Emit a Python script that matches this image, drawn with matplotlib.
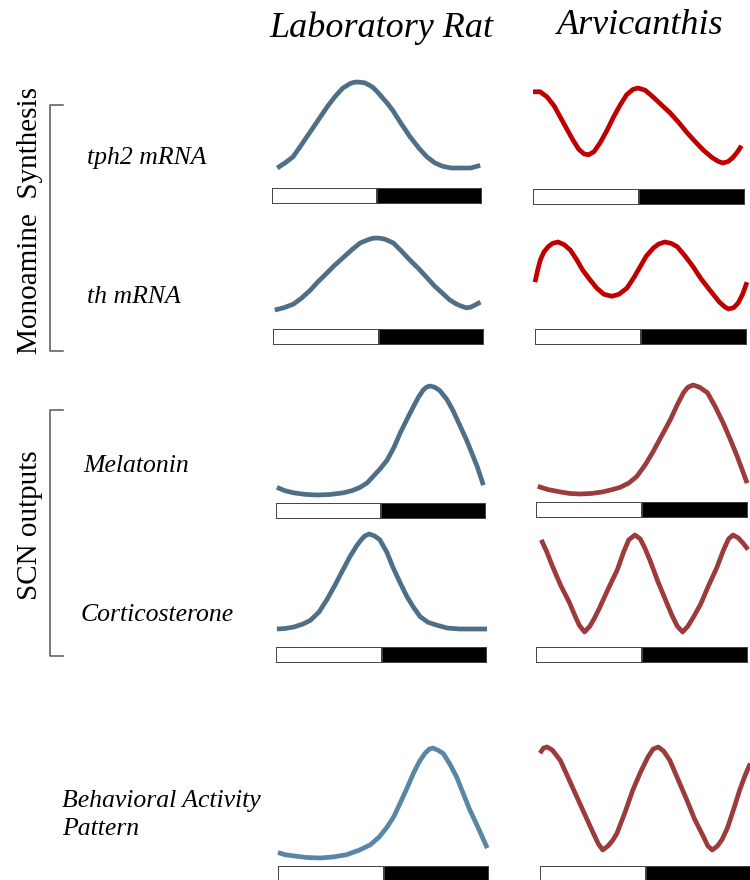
import matplotlib.pyplot as plt

# Schematic daily rhythms: hour of the 24 h light/dark cycle vs relative level (trough 0, peak 1)
tph2_rat_h = [0.6, 1.5, 2.4, 3.3, 4.3, 5.3, 6.3, 7.2, 8.1, 8.9, 9.3, 9.7, 10.1, 10.6, 11.0, 11.5, 12.0, 12.6, 13.2, 13.8, 14.8, 15.8, 16.8, 17.7, 18.6, 19.5, 20.5, 21.5, 22.7, 23.8]
tph2_rat_lev = [0.0, 0.06, 0.13, 0.26, 0.41, 0.56, 0.71, 0.83, 0.93, 0.98, 0.995, 1.0, 0.997, 0.99, 0.97, 0.94, 0.89, 0.82, 0.75, 0.67, 0.51, 0.36, 0.23, 0.13, 0.06, 0.02, 0.0, 0.0, 0.0, 0.03]
tph2_arv_h = [0.0, 0.8, 1.6, 2.4, 3.1, 3.8, 4.5, 5.2, 5.8, 6.3, 6.9, 7.6, 8.4, 9.1, 9.9, 10.6, 11.3, 11.9, 12.7, 13.6, 14.5, 15.5, 16.5, 17.4, 18.4, 19.3, 20.3, 21.0, 21.5, 22.1, 22.6, 23.1, 23.6]
tph2_arv_lev = [0.95, 0.95, 0.88, 0.76, 0.61, 0.46, 0.31, 0.18, 0.12, 0.11, 0.15, 0.27, 0.44, 0.61, 0.78, 0.91, 0.98, 1.0, 0.97, 0.88, 0.78, 0.67, 0.54, 0.41, 0.28, 0.17, 0.07, 0.02, 0.0, 0.02, 0.07, 0.14, 0.23]

th_rat_h = [0.2, 1.2, 2.3, 3.2, 4.2, 5.1, 6.1, 7.0, 8.0, 9.0, 9.9, 10.9, 11.3, 11.8, 12.3, 12.8, 13.7, 14.6, 15.6, 16.6, 17.5, 18.4, 19.3, 20.1, 20.9, 21.5, 22.0, 22.5, 23.0, 23.6]
th_rat_lev = [0.0, 0.03, 0.08, 0.16, 0.27, 0.39, 0.51, 0.62, 0.73, 0.84, 0.93, 0.98, 0.995, 1.0, 0.995, 0.98, 0.93, 0.82, 0.69, 0.57, 0.45, 0.33, 0.23, 0.14, 0.08, 0.05, 0.03, 0.04, 0.07, 0.11]
th_arv_h = [0.0, 0.3, 0.6, 1.0, 1.5, 2.0, 2.6, 3.3, 4.0, 4.7, 5.4, 6.2, 7.0, 7.8, 8.7, 9.5, 10.4, 11.2, 11.9, 12.6, 13.4, 14.0, 14.7, 15.4, 16.1, 17.0, 17.9, 18.8, 19.8, 20.9, 21.5, 21.9, 22.5, 23.0, 23.5, 24.0]
th_arv_lev = [0.40, 0.58, 0.73, 0.85, 0.93, 0.98, 1.0, 0.96, 0.88, 0.74, 0.58, 0.44, 0.31, 0.22, 0.19, 0.22, 0.31, 0.47, 0.63, 0.79, 0.91, 0.97, 1.0, 0.98, 0.93, 0.79, 0.63, 0.45, 0.28, 0.10, 0.03, 0.0, 0.02, 0.09, 0.22, 0.40]

mel_rat_h = [0.1, 1.0, 2.0, 3.4, 4.8, 6.2, 7.7, 8.7, 9.6, 10.4, 11.1, 11.9, 12.7, 13.5, 14.2, 15.0, 15.7, 16.3, 16.8, 17.2, 17.6, 18.1, 18.7, 19.5, 20.2, 21.0, 21.8, 22.4, 23.0, 23.7]
mel_rat_lev = [0.07, 0.04, 0.02, 0.005, 0.0, 0.005, 0.02, 0.04, 0.07, 0.11, 0.17, 0.24, 0.32, 0.44, 0.57, 0.70, 0.81, 0.90, 0.96, 0.99, 1.0, 0.99, 0.96, 0.88, 0.78, 0.64, 0.50, 0.38, 0.26, 0.09]
mel_arv_h = [0.2, 1.4, 2.7, 3.8, 5.0, 6.3, 7.6, 8.6, 9.5, 10.5, 11.4, 12.3, 13.2, 14.2, 15.2, 16.0, 16.7, 17.2, 17.8, 18.5, 19.4, 20.3, 21.2, 22.0, 22.8, 23.9]
mel_arv_lev = [0.07, 0.04, 0.02, 0.005, 0.0, 0.005, 0.02, 0.04, 0.06, 0.10, 0.16, 0.26, 0.38, 0.53, 0.68, 0.82, 0.93, 0.98, 1.0, 0.98, 0.93, 0.80, 0.65, 0.50, 0.34, 0.10]

cort_rat_h = [0.1, 1.0, 2.0, 3.0, 3.9, 4.9, 5.8, 6.7, 7.6, 8.4, 9.2, 9.7, 10.1, 10.6, 11.2, 11.8, 12.6, 13.3, 14.1, 14.9, 15.7, 16.4, 17.3, 18.3, 19.5, 20.9, 22.5, 24.0]
cort_rat_lev = [0.0, 0.005, 0.02, 0.05, 0.09, 0.18, 0.31, 0.46, 0.62, 0.76, 0.88, 0.94, 0.98, 1.0, 0.98, 0.94, 0.81, 0.65, 0.49, 0.34, 0.22, 0.13, 0.07, 0.04, 0.01, 0.0, 0.0, 0.0]
cort_arv_h = [0.6, 1.2, 1.9, 2.8, 3.8, 4.4, 4.9, 5.5, 6.1, 6.6, 7.2, 8.2, 9.2, 9.9, 10.5, 11.2, 11.8, 12.3, 12.9, 13.8, 14.8, 15.4, 16.0, 16.6, 17.2, 17.8, 18.6, 19.5, 20.5, 21.2, 21.8, 22.3, 22.9, 23.5, 24.0]
cort_arv_lev = [0.95, 0.83, 0.67, 0.48, 0.30, 0.17, 0.07, 0.0, 0.06, 0.14, 0.25, 0.45, 0.64, 0.82, 0.95, 1.0, 0.96, 0.87, 0.74, 0.52, 0.30, 0.17, 0.06, 0.0, 0.06, 0.15, 0.28, 0.47, 0.67, 0.84, 0.96, 1.0, 0.97, 0.91, 0.85]

act_rat_h = [0.0, 0.8, 1.7, 3.2, 4.8, 6.3, 7.8, 9.2, 10.5, 11.5, 12.4, 13.2, 13.9, 14.7, 15.4, 16.1, 16.7, 17.2, 17.6, 18.2, 18.8, 19.5, 20.3, 21.0, 21.8, 22.8, 23.8]
act_rat_lev = [0.05, 0.03, 0.02, 0.005, 0.0, 0.01, 0.03, 0.07, 0.12, 0.19, 0.28, 0.38, 0.50, 0.64, 0.77, 0.88, 0.95, 0.99, 1.0, 0.98, 0.95, 0.86, 0.74, 0.60, 0.44, 0.27, 0.09]
act_arv_h = [0.0, 0.4, 0.8, 1.4, 2.3, 3.2, 4.2, 5.1, 6.0, 6.6, 7.1, 7.7, 8.2, 8.7, 9.6, 10.5, 11.4, 12.2, 12.8, 13.4, 14.0, 14.7, 15.6, 16.6, 17.5, 18.5, 19.0, 19.5, 20.1, 20.6, 21.2, 21.9, 22.6, 23.2, 23.8]
act_arv_lev = [0.94, 0.99, 1.0, 0.97, 0.87, 0.70, 0.51, 0.34, 0.17, 0.06, 0.0, 0.04, 0.09, 0.16, 0.36, 0.58, 0.76, 0.90, 0.98, 1.0, 0.96, 0.87, 0.69, 0.49, 0.30, 0.13, 0.04, 0.0, 0.04, 0.10, 0.21, 0.39, 0.58, 0.72, 0.84]

# light / dark phases of the day
phase_start = [0, 12]
phase_len = [12, 12]
phase_color = ['white', 'black']

row_labels = ['tph2 mRNA', 'th mRNA', 'Melatonin', 'Corticosterone', 'Behavioral Activity\nPattern']
species = ['Laboratory Rat', 'Arvicanthis']
groups = ['Monoamine  Synthesis', 'SCN outputs']

W, H = 750, 880
fig = plt.figure(figsize=(W / 100, H / 100), dpi=100)


def px_axes(left, top, right, bottom):
    return fig.add_axes([left / W, 1 - bottom / H, (right - left) / W, (bottom - top) / H])


blue = '#4f6f89'
red = '#c00000'
dred = '#9c3b3b'

# (h, lev, color, curve band top, band bottom, bar left, bar right, bar top)
panels = [
    (tph2_rat_h, tph2_rat_lev, blue, 82, 168, 272, 482, 188),
    (tph2_arv_h, tph2_arv_lev, red, 88, 163, 533, 745, 189),
    (th_rat_h, th_rat_lev, blue, 238, 310, 273, 484, 329),
    (th_arv_h, th_arv_lev, red, 242, 309, 535, 747, 329),
    (mel_rat_h, mel_rat_lev, blue, 386, 495, 276, 486, 503),
    (mel_arv_h, mel_arv_lev, dred, 385, 494, 536, 748, 502),
    (cort_rat_h, cort_rat_lev, blue, 534, 629, 276, 487, 647),
    (cort_arv_h, cort_arv_lev, dred, 535, 632, 536, 748, 647),
    (act_rat_h, act_rat_lev, '#5a86a6', 748, 858, 278, 489, 866),
    (act_arv_h, act_arv_lev, dred, 747, 850, 540, 752, 866),
]

for h, lev, col, top, bot, bl, br, bt in panels:
    ax = px_axes(bl, top, br, bot)
    ax.plot(h, lev, color=col, lw=3.4, clip_on=False, solid_capstyle='butt',
            solid_joinstyle='round')
    ax.set_xlim(0, 24)
    ax.set_ylim(0, 1)
    ax.axis('off')
    bx = px_axes(bl, bt, br, bt + 16)
    bx.barh(0, phase_len, left=phase_start, height=1, color=phase_color,
            edgecolor='#444444', linewidth=1.4)
    bx.set_xlim(0, 24)
    bx.set_ylim(-0.5, 0.5)
    bx.axis('off')

# text layer
ov = fig.add_axes([0, 0, 1, 1], zorder=-1)
ov.set_xlim(0, W)
ov.set_ylim(H, 0)
ov.axis('off')

serif = 'Liberation Serif'
ov.text(381, 28, species[0], fontsize=26, style='italic', family=serif, ha='center', va='center')
ov.text(640, 25, species[1], fontsize=26, style='italic', family=serif, ha='center', va='center')

lab_fs = 18.5
ov.text(87, 158, row_labels[0], fontsize=lab_fs, style='italic', family=serif, va='center')
ov.text(87, 297, row_labels[1], fontsize=lab_fs, style='italic', family=serif, va='center')
ov.text(83, 466, row_labels[2], fontsize=lab_fs, style='italic', family=serif, va='center')
ov.text(81, 615, row_labels[3], fontsize=lab_fs, style='italic', family=serif, va='center')
ov.text(62, 815, row_labels[4], fontsize=lab_fs, style='italic', family=serif, va='center',
        linespacing=1.3)

ov.text(30, 220, groups[0], fontsize=21, family=serif, rotation=90, ha='center', va='center')
ov.text(30, 525, groups[1], fontsize=21, family=serif, rotation=90, ha='center', va='center')

# brackets
for top, bot in [(105, 351), (410, 656)]:
    ov.plot([63, 50, 50, 63], [top, top, bot, bot], color='#555555', lw=1.1)

fig.savefig('out.png', dpi=100)
